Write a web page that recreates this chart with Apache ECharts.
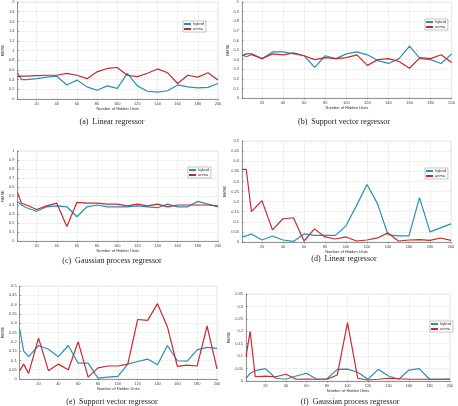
<!DOCTYPE html>
<html>
<head>
<meta charset="utf-8">
<script src="https://cdn.jsdelivr.net/npm/echarts@6/dist/echarts.min.js"></script>
<style>
  html, body { margin: 0; padding: 0; background: #fff; }
  #show-report { width: 458px; height: 406px; }
</style>
</head>
<body>
<div id="show-report"></div>
<script>
// hidden units on the x axis and the tick labels shown
var hiddenUnits = [1, 5, 10, 20, 30, 40, 50, 60, 70, 80, 90, 100, 110, 120, 130, 140, 150, 160, 170, 180, 190, 200];
var xTickLabels = [20, 40, 60, 80, 100, 120, 140, 160, 180, 200];

// (a) linear regressor
var hybridA = [0.54, 0.40, 0.40, 0.42, 0.45, 0.47, 0.29, 0.39, 0.25, 0.18, 0.27, 0.22, 0.53, 0.27, 0.16, 0.14, 0.17, 0.29, 0.25, 0.23, 0.24, 0.32];
var arimaA  = [0.46, 0.47, 0.47, 0.48, 0.49, 0.49, 0.53, 0.49, 0.42, 0.56, 0.63, 0.65, 0.49, 0.46, 0.53, 0.62, 0.54, 0.32, 0.49, 0.45, 0.54, 0.39];
// (b) support vector regressor
var hybridB = [0.45, 0.43, 0.45, 0.41, 0.48, 0.48, 0.46, 0.44, 0.32, 0.44, 0.41, 0.46, 0.48, 0.45, 0.39, 0.36, 0.41, 0.54, 0.41, 0.40, 0.36, 0.46];
var arimaB  = [0.44, 0.46, 0.46, 0.41, 0.46, 0.45, 0.47, 0.44, 0.40, 0.42, 0.41, 0.42, 0.45, 0.34, 0.40, 0.41, 0.38, 0.31, 0.42, 0.41, 0.45, 0.37];
// (c) gaussian process regressor
var hybridC = [0.44, 0.40, 0.37, 0.33, 0.38, 0.39, 0.38, 0.27, 0.38, 0.40, 0.38, 0.38, 0.38, 0.39, 0.38, 0.37, 0.41, 0.38, 0.38, 0.44, 0.41, 0.38];
var arimaC  = [0.54, 0.42, 0.40, 0.35, 0.39, 0.42, 0.16, 0.43, 0.42, 0.42, 0.41, 0.41, 0.39, 0.41, 0.39, 0.41, 0.38, 0.40, 0.40, 0.40, 0.40, 0.39];
// (d) linear regressor
var hybridD = [0.025, 0.03, 0.04, 0.01, 0.03, 0.01, 0.003, 0.04, 0.033, 0.033, 0.033, 0.08, 0.18, 0.285, 0.19, 0.036, 0.03, 0.03, 0.22, 0.05, 0.07, 0.09];
var arimaD  = [0.36, 0.36, 0.15, 0.205, 0.06, 0.115, 0.12, 0.005, 0.065, 0.025, 0.015, 0.025, 0.005, 0.01, 0.02, 0.045, 0.005, 0.01, 0.012, 0.008, 0.02, 0.008];
// (e) support vector regressor
var hybridE = [0.27, 0.15, 0.12, 0.18, 0.16, 0.12, 0.18, 0.085, 0.085, 0.005, 0.01, 0.014, 0.08, 0.094, 0.107, 0.077, 0.18, 0.098, 0.096, 0.157, 0.17, 0.165];
var arimaE  = [0.045, 0.08, 0.03, 0.22, 0.045, 0.08, 0.05, 0.20, 0.01, 0.06, 0.07, 0.07, 0.08, 0.32, 0.315, 0.405, 0.28, 0.068, 0.075, 0.07, 0.285, 0.055];
// (f) gaussian process regressor
var hybridF = [0.011, 0.03, 0.042, 0.05, 0.011, 0.007, 0.02, 0.031, 0.007, 0.009, 0.047, 0.048, 0.035, 0.007, 0.047, 0.02, 0.007, 0.044, 0.05, 0.007, 0.007, 0.007];
var arimaF  = [0.098, 0.2, 0.017, 0.02, 0.017, 0.027, 0.007, 0.008, 0.007, 0.007, 0.024, 0.235, 0.011, 0.004, 0.007, 0.011, 0.009, 0.007, 0.007, 0.007, 0.007, 0.008];

var captions = ['(a)  Linear regressor', '(b)  Support vector regressor', '(c)  Gaussian process regressor',
                '(d)  Linear regressor', '(e)  Support vector regressor', '(f)  Gaussian process regressor'];

var myChart = echarts.init(document.getElementById('show-report'));

function pairs(ys) {
  return ys.map(function (v, i) { return [hiddenUnits[i], v]; });
}

// layout of the six panels (pixel boxes)
var panels = [
  { hy: hybridA, ar: arimaA, ymax: 2,    step: 0.2,  box: [12, 2, 206, 97],   cap: [112, 122], leg: [183, 21] },
  { hy: hybridB, ar: arimaB, ymax: 1,    step: 0.1,  box: [242, 0, 212, 98],  cap: [344, 122], leg: [425, 19] },
  { hy: hybridC, ar: arimaC, ymax: 1,    step: 0.1,  box: [13, 151, 205, 90], cap: [112, 261], leg: [188, 167] },
  { hy: hybridD, ar: arimaD, ymax: 0.5,  step: 0.05, box: [242, 141, 209, 101], cap: [344, 259], leg: [425, 168] },
  { hy: hybridE, ar: arimaE, ymax: 0.5,  step: 0.05, box: [12, 286, 205, 93], cap: [112, 402], leg: null },
  { hy: hybridF, ar: arimaF, ymax: 0.35, step: 0.05, box: [246, 294, 204, 87], cap: [350, 402], leg: [430, 321] }
];

var grid = [], xAxis = [], yAxis = [], series = [], legend = [], graphic = [];
var tickFont = { fontSize: 4, color: '#444', fontFamily: 'Liberation Sans' };

panels.forEach(function (p, i) {
  grid.push({
    left: p.box[0], top: p.box[1], width: p.box[2], height: p.box[3],
    show: true, borderColor: '#d8d8d8', borderWidth: 0.6
  });
  xAxis.push({
    type: 'value', gridIndex: i, min: 1, max: 200,
    name: 'Number of Hidden Units', nameLocation: 'middle', nameGap: 7,
    nameTextStyle: { fontSize: 4, color: '#333' },
    axisLine: { lineStyle: { color: '#555', width: 0.6 } },
    axisTick: { customValues: xTickLabels, length: 1.5, lineStyle: { color: '#555', width: 0.5 } },
    axisLabel: Object.assign({ customValues: xTickLabels, margin: 3 }, tickFont),
    splitLine: { show: true, lineStyle: { color: '#e8e8e8', width: 0.6 } }
  });
  yAxis.push({
    type: 'value', gridIndex: i, min: 0, max: p.ymax, interval: p.step,
    name: 'RMSE', nameLocation: 'middle', nameGap: 9, nameRotate: 90,
    nameTextStyle: { fontSize: 4, color: '#333' },
    axisLine: { show: true, lineStyle: { color: '#555', width: 0.6 } },
    axisTick: { show: true, inside: true, length: 1.5, lineStyle: { color: '#555', width: 0.5 } },
    axisLabel: Object.assign({ margin: 3 }, tickFont),
    splitLine: { show: true, lineStyle: { color: '#e8e8e8', width: 0.6 } }
  });
  series.push({
    name: 'hybrid', type: 'line', xAxisIndex: i, yAxisIndex: i, data: pairs(p.hy),
    showSymbol: false, lineStyle: { color: '#2b8db8', width: 1.2 }, itemStyle: { color: '#2b8db8' }
  });
  series.push({
    name: 'arima', type: 'line', xAxisIndex: i, yAxisIndex: i, data: pairs(p.ar),
    showSymbol: false, lineStyle: { color: '#c62a2f', width: 1.2 }, itemStyle: { color: '#c62a2f' }
  });
  if (p.leg) {
    legend.push({
      left: p.leg[0], top: p.leg[1], orient: 'vertical',
      data: ['hybrid', 'arima'], itemWidth: 7, itemHeight: 2, itemGap: 1,
      padding: [1, 2, 1, 1], borderColor: '#888', borderWidth: 0.5, backgroundColor: '#fff',
      icon: 'rect', selectedMode: false,
      textStyle: { fontSize: 4, color: '#333', padding: [0, 0, 0, -3] }
    });
  }
  // caption centred under each panel
  graphic.push({
    type: 'text', x: p.cap[0], y: p.cap[1],
    style: { text: captions[i], fontSize: 8, fontFamily: 'Liberation Serif', fill: '#222',
             align: 'center', verticalAlign: 'middle' }
  });
});

var option = {
  animation: false,
  backgroundColor: '#fff',
  grid: grid, xAxis: xAxis, yAxis: yAxis,
  legend: legend, series: series, graphic: graphic
};
myChart.setOption(option);
</script>
</body>
</html>
